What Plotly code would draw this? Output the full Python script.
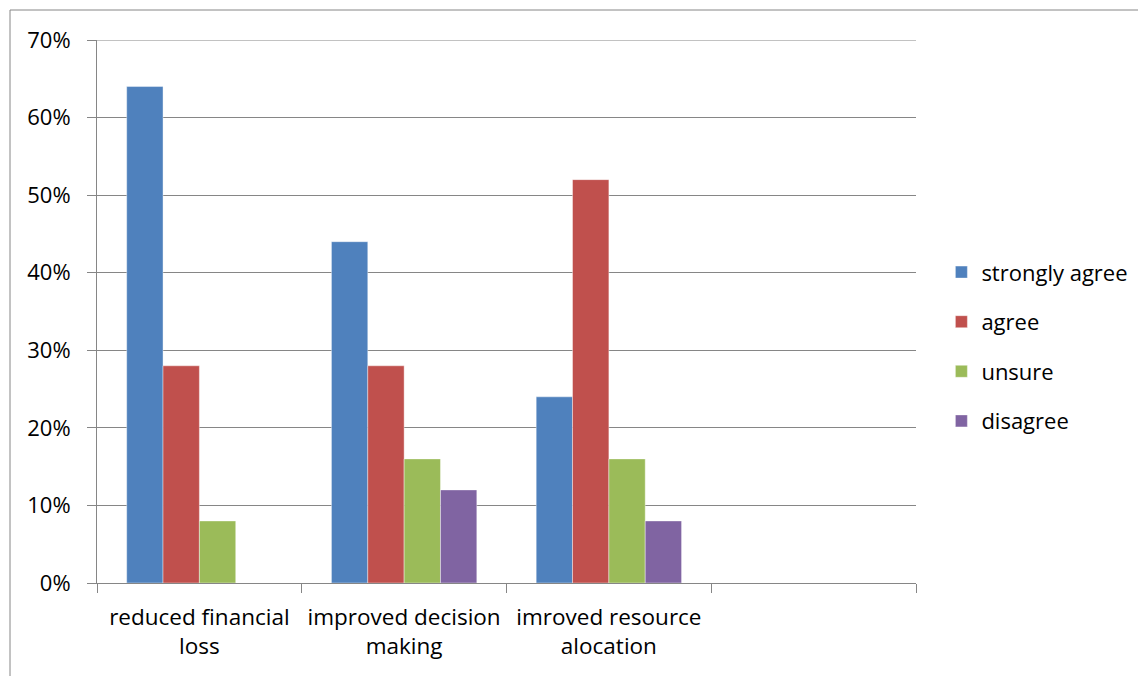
import plotly.graph_objects as go

categories = ["reduced financial<br>loss", "improved decision<br>making", "imroved resource<br>alocation", " "]
series_names = ["strongly agree", "agree", "unsure", "disagree"]
strongly_agree = [0.64, 0.44, 0.24, None]
agree = [0.28, 0.28, 0.52, None]
unsure = [0.08, 0.16, 0.16, None]
disagree = [None, 0.12, 0.08, None]
y_ticks = [0, 0.1, 0.2, 0.3, 0.4, 0.5, 0.6, 0.7]

colors = ["#4F81BD", "#C0504D", "#9BBB59", "#8064A2"]
values = [strongly_agree, agree, unsure, disagree]

FONT = "Open Sans"
W, H = 1146, 676
OFF = 8  # page body margin
L, T = 97 - OFF, 40 - OFF
PW, PH = 819, 543
R = W - L - PW
B = H - T - PH

fig = go.Figure()
for i, (name, vals, col) in enumerate(zip(series_names, values, colors)):
    fig.add_trace(go.Bar(
        name=name, x=categories, y=vals, legendgroup=f"g{i}",
        marker=dict(color=col, line=dict(color="rgba(255,255,255,0.5)", width=0.8)),
    ))

# outer chart border
fig.add_shape(type="rect", xref="paper", yref="paper",
              x0=(10 - 97) / PW, x1=(W + 20 - 97) / PW,
              y0=-(H + 20 - 583) / PH, y1=1 + (40 - 10) / PH,
              line=dict(color="#868686", width=1), fillcolor="rgba(0,0,0,0)", layer="below")
# top gridline (plotly hides gridline at range edge)
fig.add_shape(type="line", xref="paper", yref="y", x0=0, x1=1,
              y0=y_ticks[-1], y1=y_ticks[-1],
              line=dict(color="#868686", width=1), layer="below")

fig.update_layout(
    width=W, height=H,
    margin=dict(l=L, r=R, t=T, b=B),
    paper_bgcolor="white", plot_bgcolor="white",
    barmode="group", bargap=0.29, bargroupgap=0,
    font=dict(family=FONT, size=22, color="#000000"),
    showlegend=True,
    legend=dict(x=1.031, y=0.435, xanchor="left", yanchor="middle",
                font=dict(family=FONT, size=22), tracegroupgap=18,
                itemwidth=30, bgcolor="rgba(0,0,0,0)"),
    xaxis=dict(
        type="category", categoryorder="array", categoryarray=categories,
        range=[-0.5, 3.5], showgrid=False, showline=True, linecolor="#868686", linewidth=1,
        ticks="outside", tickson="boundaries", ticklen=9, tickcolor="#868686",
        tickfont=dict(family=FONT, size=22.5), ticklabelstandoff=14, fixedrange=True,
    ),
    yaxis=dict(
        range=[0, 0.7], tickvals=y_ticks, tickformat=".0%",
        showgrid=True, gridcolor="#868686", gridwidth=1,
        showline=True, linecolor="#868686", linewidth=1,
        ticks="outside", ticklen=9, tickcolor="#868686",
        tickfont=dict(family=FONT, size=22), ticklabelstandoff=12,
        zeroline=False, fixedrange=True,
    ),
)

fig.write_html("out.html")
